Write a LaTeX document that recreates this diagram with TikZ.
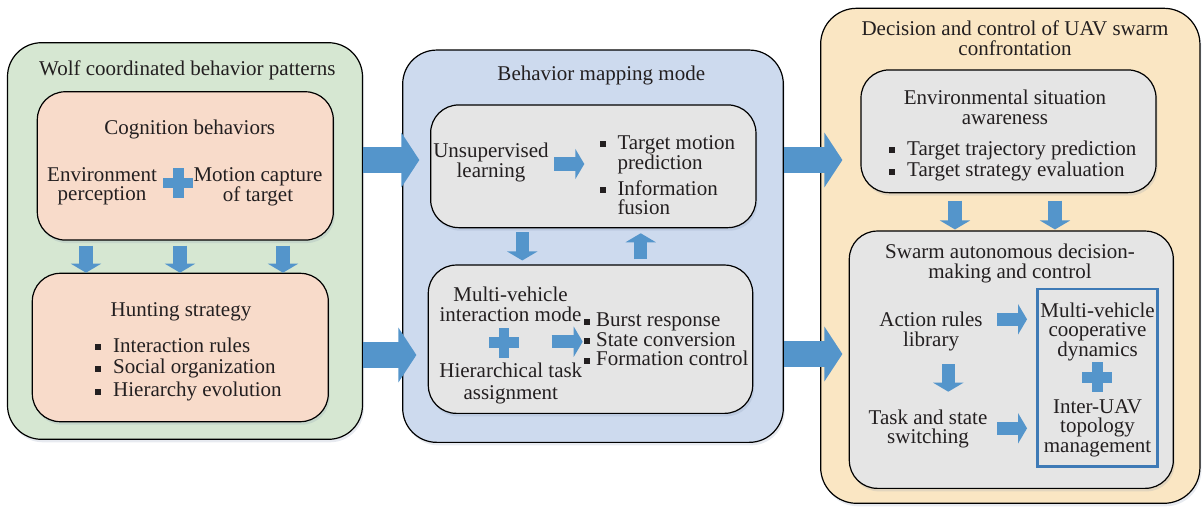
\documentclass[tikz,border=0pt]{standalone}
\usepackage{fontspec}
\setmainfont{Liberation Serif}
\usetikzlibrary{arrows.meta,shadows}
\definecolor{cgreen}{RGB}{214,231,210}
\definecolor{cpeach}{RGB}{248,219,202}
\definecolor{cblue}{RGB}{205,218,238}
\definecolor{cgray}{RGB}{229,229,229}
\definecolor{corange}{RGB}{250,230,195}
\definecolor{carrow}{RGB}{84,149,203}
\definecolor{crect}{RGB}{62,122,182}
\definecolor{ctext}{RGB}{35,31,32}
\definecolor{cshadow}{RGB}{120,140,170}
\newcommand{\dfont}{\fontsize{21}{19}\selectfont}
\newcommand{\bsq}{\makebox[18pt][l]{\rule[2pt]{6pt}{6pt}}}
\newcommand{\bsqn}{\makebox[12pt][l]{\rule[2pt]{6pt}{6pt}}}
\tikzset{
  box/.style={draw=black, line width=1.2pt, rectangle, inner sep=0pt,
    general shadow={fill=cshadow, opacity=0.18, shadow xshift=1.5pt, shadow yshift=-3pt}},
  txt/.style={font=\dfont, text=ctext, inner sep=0pt},
  barrow/.style={draw=carrow, line width=26pt, -{Triangle[width=54pt,length=18pt]}},
  sarrow/.style={draw=carrow, line width=13.5pt, -{Triangle[width=30pt,length=9pt]}},
  plussign/.pic={\fill[carrow] (-15,-5.25) rectangle (15,5.25); \fill[carrow] (-5.25,-15) rectangle (5.25,15);}
}
\begin{document}
\begin{tikzpicture}[x=1pt,y=-1pt]
\useasboundingbox (0,0) rectangle (1203,507);
% containers
\node[box, fill=cgreen, minimum width=355pt, minimum height=396.6pt, rounded corners=34pt] (wolf) at (185,241) {};
\node[box, fill=cblue, minimum width=380.6pt, minimum height=392.3pt, rounded corners=34pt] (map) at (593,246.2) {};
\node[box, fill=corange, minimum width=379.3pt, minimum height=495pt, rounded corners=36pt] (dec) at (1010.3,255.8) {};
% inner boxes
\node[box, fill=cpeach, minimum width=296pt, minimum height=148.3pt, rounded corners=28pt] (cog) at (185.3,165.9) {};
\node[box, fill=cpeach, minimum width=296pt, minimum height=148.4pt, rounded corners=28pt] (hunt) at (180.3,347.5) {};
\node[box, fill=cgray, minimum width=325.3pt, minimum height=122.7pt, rounded corners=28pt] (unsup) at (593.3,166.3) {};
\node[box, fill=cgray, minimum width=324.4pt, minimum height=148.3pt, rounded corners=28pt] (multi) at (590.5,339.2) {};
\node[box, fill=cgray, minimum width=295pt, minimum height=122.7pt, rounded corners=28pt] (env) at (1008.5,131.3) {};
\node[box, fill=cgray, minimum width=324pt, minimum height=257.3pt, rounded corners=28pt] (swarm) at (1011.3,359.7) {};
\node[draw=crect, line width=2.5pt, minimum width=119.6pt, minimum height=177.7pt, inner sep=0pt] (coop) at (1097.5,377.8) {};
% texts
\node[txt, anchor=base] (wolft) at (187.3,75) {Wolf coordinated behavior patterns};
\node[txt, anchor=base] (cogt) at (189.7,134.3) {Cognition behaviors};
\node[txt, anchor=north, align=center] (envp) at (102,167.4) {Environment\\perception};
\node[txt, anchor=north, align=center] (motc) at (258,167.4) {Motion capture\\of target};
\node[txt, anchor=base] (huntt) at (181,316.7) {Hunting strategy};
\node[txt, anchor=north west, align=left] (huntl) at (95,337.4) {\bsq Interaction rules\\[2.7pt]\bsq Social organization\\[2.7pt]\bsq Hierarchy evolution};
\node[txt, anchor=base] (mapt) at (601.3,80.7) {Behavior mapping mode};
\node[txt, anchor=north, align=center] (unsupt) at (491,142.4) {Unsupervised\\learning};
\node[txt, anchor=north west, align=left] (unsupl) at (599.3,135) {\bsq Target motion\\\hspace*{18pt}prediction\\[6pt]\bsq Information\\\hspace*{18pt}fusion};
\node[txt, anchor=north, align=center] (mvt) at (510.5,287) {Multi-vehicle\\[0.5pt]interaction mode};
\node[txt, anchor=north, align=center] (hta) at (510.8,363) {Hierarchical task\\[3pt]assignment};
\node[txt, anchor=north west, align=left] (multil) at (584,313) {\bsqn Burst response\\[0.5pt]\bsqn State conversion\\[0.5pt]\bsqn Formation control};
\node[txt, anchor=north, align=center] (dect) at (1015,20.7) {Decision and control of UAV swarm\\[1pt]confrontation};
\node[txt, anchor=north, align=center] (envt) at (1005,89.7) {Environmental situation\\[1.3pt]awareness};
\node[txt, anchor=north west, align=left] (envl) at (889,140.7) {\bsq Target trajectory prediction\\[1pt]\bsq Target strategy evaluation};
\node[txt, anchor=north, align=center] (swarmt) at (1010,244) {Swarm autonomous decision-\\[0.3pt]making and control};
\node[txt, anchor=north, align=center] (action) at (931,312) {Action rules\\[0.5pt]library};
\node[txt, anchor=north, align=center] (task) at (928,409.7) {Task and state\\[0.5pt]switching};
\node[txt, anchor=north, align=center] (coopt) at (1097.5,302.5) {Multi-vehicle\\[0.3pt]cooperative\\[0.3pt]dynamics};
\node[txt, anchor=north, align=center] (topo) at (1097.5,399.5) {Inter-UAV\\[0.3pt]topology\\[0.3pt]management};
% plus signs
\pic at (178.3,183) {plussign};
\pic at (504,342.7) {plussign};
\pic at (1097.3,377.3) {plussign};
% big arrows
\draw[barrow] ([yshift=81pt]wolf.east) -- ([xshift=-10.7pt,yshift=6.3pt]unsup.west);
\draw[barrow] ([yshift=-114pt]wolf.east) -- ([xshift=-11.3pt,yshift=-15.8pt]multi.west);
\draw[barrow] ([yshift=86.2pt]map.east) -- ([xshift=-18pt,yshift=-28.7pt]env.west);
\draw[barrow] ([yshift=-107.8pt]map.east) -- ([xshift=-6.3pt,yshift=5.7pt]swarm.west);
% small arrows
\draw[sarrow] ([xshift=-99.3pt,yshift=-5pt]cog.south) -- ([xshift=-94.3pt]hunt.north);
\draw[sarrow] ([xshift=-5.3pt,yshift=-5pt]cog.south) -- ([xshift=-0.3pt]hunt.north);
\draw[sarrow] ([xshift=97.7pt,yshift=-5pt]cog.south) -- ([xshift=102.7pt]hunt.north);
\draw[sarrow] ([xshift=-39.3pt,yshift=2.3pt]unsup.center) -- ([xshift=-9pt,yshift=2.3pt]unsup.center);
\draw[sarrow] ([xshift=-71pt,yshift=-4pt]unsup.south) -- ([xshift=-68.2pt,yshift=4pt]multi.north);
\draw[sarrow] ([xshift=50.2pt,yshift=5pt]multi.north) -- ([xshift=47.4pt,yshift=-5pt]unsup.south);
\draw[sarrow] ([xshift=-38.8pt,yshift=-2.5pt]multi.center) -- ([xshift=-7.8pt,yshift=-2.5pt]multi.center);
\draw[sarrow] ([xshift=-53.5pt,yshift=-7.3pt]env.south) -- ([xshift=-56.3pt,yshift=1pt]swarm.north);
\draw[sarrow] ([xshift=46.5pt,yshift=-7.3pt]env.south) -- ([xshift=43.7pt,yshift=1pt]swarm.north);
\draw[sarrow] ([xshift=-39.4pt,yshift=58.5pt]coop.west) -- ([xshift=-9.4pt,yshift=58.5pt]coop.west);
\draw[sarrow] ([xshift=-39.4pt,yshift=-50.5pt]coop.west) -- ([xshift=-9.4pt,yshift=-50.5pt]coop.west);
\draw[sarrow] ([xshift=17.3pt,yshift=-13pt]action.south) -- ([xshift=20.3pt,yshift=18pt]task.north);
\end{tikzpicture}
\end{document}
